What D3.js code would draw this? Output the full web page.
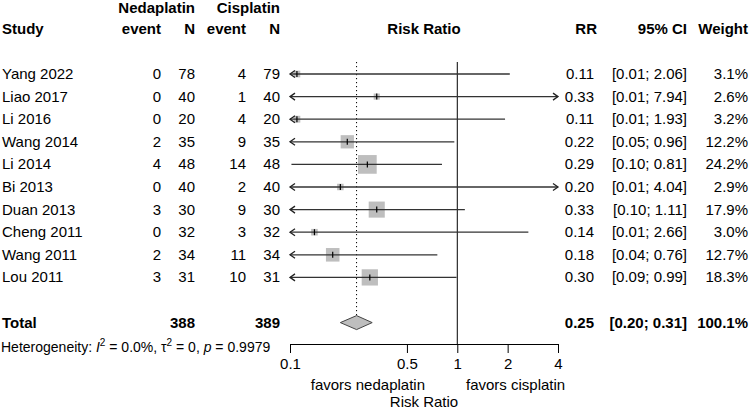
<!DOCTYPE html>
<html>
<head>
<meta charset="utf-8">
<script src="https://cdn.jsdelivr.net/npm/d3@7"></script>
<style>
  body { margin: 0; background: #fff; }
  svg { font-family: "Liberation Sans", Arial, sans-serif; font-size: 15px; }
  .bold { font-weight: bold; }
</style>
</head>
<body>
<div id="chart"></div>
<script>
// Study data
var studies = ["Yang 2022", "Liao 2017", "Li 2016", "Wang 2014", "Li 2014", "Bi 2013", "Duan 2013", "Cheng 2011", "Wang 2011", "Lou 2011"];
var eventsNed = [0, 0, 0, 2, 4, 0, 3, 0, 2, 3];
var totalNed = [78, 40, 20, 35, 48, 40, 30, 32, 34, 31];
var eventsCis = [4, 1, 4, 9, 14, 2, 9, 3, 11, 10];
var totalCis = [79, 40, 20, 35, 48, 40, 30, 32, 34, 31];
var rr = [0.11, 0.33, 0.11, 0.22, 0.29, 0.20, 0.33, 0.14, 0.18, 0.30];
var ciLow = [0.01, 0.01, 0.01, 0.05, 0.102, 0.01, 0.098, 0.01, 0.04, 0.09];
var ciHigh = [2.06, 7.94, 1.93, 0.96, 0.81, 4.04, 1.11, 2.66, 0.76, 0.99];
var weights = [3.1, 2.6, 3.2, 12.2, 24.2, 2.9, 17.9, 3.0, 12.7, 18.3];
var pooled = [0.25, 0.20, 0.31];
var tickValues = [0.1, 0.5, 1, 2, 4];

var width = 750, height = 411;

var svg = d3.select("#chart")
  .append("svg")
    .attr("width", width)
    .attr("height", height);

// log scale for risk ratios, linear scale for rows (row 11 is the total)
var x = d3.scaleLog().domain([0.1, 4]).range([290, 558]);
var y = d3.scaleLinear().domain([0, 11]).range([74, 322.6]);
var box = d3.scaleSqrt().domain([0, 24.2]).range([0, 18.7]);

var rows = studies.map(function(s, i) {
  return { study: s, en: eventsNed[i], nn: totalNed[i], ec: eventsCis[i], nc: totalCis[i],
           rr: rr[i], lo: ciLow[i], hi: ciHigh[i], w: weights[i], i: i };
});

// column headers
var head1 = 12.8, head2 = y(-2) + 5;
svg.append("text").attr("class", "bold").attr("x", 195).attr("y", head1).attr("text-anchor", "end").text("Nedaplatin");
svg.append("text").attr("class", "bold").attr("x", 280).attr("y", head1).attr("text-anchor", "end").text("Cisplatin");
svg.append("text").attr("class", "bold").attr("x", 2).attr("y", head2).text("Study");
[[161, "event"], [195, "N"], [246, "event"], [280, "N"], [597, "RR"], [687, "95% CI"], [748, "Weight"]].forEach(function(h) {
  svg.append("text").attr("class", "bold").attr("x", h[0]).attr("y", head2).attr("text-anchor", "end").text(h[1]);
});
svg.append("text").attr("class", "bold").attr("x", (x.range()[0] + x.range()[1]) / 2).attr("y", head2)
  .attr("text-anchor", "middle").text("Risk Ratio");

// reference lines
svg.append("line")
  .attr("x1", x(1)).attr("x2", x(1)).attr("y1", 62).attr("y2", 344)
  .attr("stroke", "black").attr("stroke-width", 1);
svg.append("line")
  .attr("x1", x(pooled[0])).attr("x2", x(pooled[0])).attr("y1", 62).attr("y2", y(11) - 7)
  .attr("stroke", "black").attr("stroke-width", 1).attr("stroke-dasharray", "1.2,2.8");

// study rows
var g = svg.selectAll("g.row")
  .data(rows)
  .enter()
  .append("g")
  .attr("class", "row");

g.append("text").attr("x", 2).attr("y", function(d) { return y(d.i) + 5; }).text(function(d) { return d.study; });
g.append("text").attr("x", 161).attr("y", function(d) { return y(d.i) + 5; }).attr("text-anchor", "end").text(function(d) { return d.en; });
g.append("text").attr("x", 195).attr("y", function(d) { return y(d.i) + 5; }).attr("text-anchor", "end").text(function(d) { return d.nn; });
g.append("text").attr("x", 246).attr("y", function(d) { return y(d.i) + 5; }).attr("text-anchor", "end").text(function(d) { return d.ec; });
g.append("text").attr("x", 280).attr("y", function(d) { return y(d.i) + 5; }).attr("text-anchor", "end").text(function(d) { return d.nc; });
g.append("text").attr("x", 594).attr("y", function(d) { return y(d.i) + 5; }).attr("text-anchor", "end").text(function(d) { return d.rr.toFixed(2); });
g.append("text").attr("x", 687).attr("y", function(d) { return y(d.i) + 5; }).attr("text-anchor", "end")
  .text(function(d) { return "[" + d.lo.toFixed(2) + "; " + d.hi.toFixed(2) + "]"; });
g.append("text").attr("x", 748).attr("y", function(d) { return y(d.i) + 5; }).attr("text-anchor", "end")
  .text(function(d) { return d.w.toFixed(1) + "%"; });

// weight squares
g.append("rect")
  .attr("x", function(d) { return x(d.rr) - box(d.w) / 2; })
  .attr("y", function(d) { return y(d.i) - box(d.w) / 2; })
  .attr("width", function(d) { return box(d.w); })
  .attr("height", function(d) { return box(d.w); })
  .attr("fill", "#bebebe");

// confidence intervals, clipped to the axis with arrows
var lo = x.domain()[0], hi = x.domain()[1];
g.append("line")
  .attr("x1", function(d) { return x(Math.max(d.lo, lo)); })
  .attr("x2", function(d) { return x(Math.min(d.hi, hi)); })
  .attr("y1", function(d) { return y(d.i); })
  .attr("y2", function(d) { return y(d.i); })
  .attr("stroke", "#333").attr("stroke-width", 1.3);

g.filter(function(d) { return d.lo < lo; })
  .append("path")
  .attr("d", function(d) { var px = x(lo), py = y(d.i); return "M" + (px + 5) + "," + (py - 3.5) + "L" + px + "," + py + "L" + (px + 5) + "," + (py + 3.5); })
  .attr("fill", "none").attr("stroke", "#222").attr("stroke-width", 1.3);
g.filter(function(d) { return d.hi > hi; })
  .append("path")
  .attr("d", function(d) { var px = x(hi), py = y(d.i); return "M" + (px - 5) + "," + (py - 3.5) + "L" + px + "," + py + "L" + (px - 5) + "," + (py + 3.5); })
  .attr("fill", "none").attr("stroke", "#222").attr("stroke-width", 1.3);

// point estimate tick
g.append("line")
  .attr("x1", function(d) { return x(d.rr); })
  .attr("x2", function(d) { return x(d.rr); })
  .attr("y1", function(d) { return y(d.i) - 3; })
  .attr("y2", function(d) { return y(d.i) + 3; })
  .attr("stroke", "black").attr("stroke-width", 1.2);

// total row
var yt = y(11);
svg.append("text").attr("class", "bold").attr("x", 2).attr("y", yt + 5).text("Total");
svg.append("text").attr("class", "bold").attr("x", 195).attr("y", yt + 5).attr("text-anchor", "end").text(d3.sum(totalNed));
svg.append("text").attr("class", "bold").attr("x", 280).attr("y", yt + 5).attr("text-anchor", "end").text(d3.sum(totalCis));
svg.append("text").attr("class", "bold").attr("x", 594).attr("y", yt + 5).attr("text-anchor", "end").text(pooled[0].toFixed(2));
svg.append("text").attr("class", "bold").attr("x", 687).attr("y", yt + 5).attr("text-anchor", "end")
  .text("[" + pooled[1].toFixed(2) + "; " + pooled[2].toFixed(2) + "]");
svg.append("text").attr("class", "bold").attr("x", 748).attr("y", yt + 5).attr("text-anchor", "end").text(d3.sum(weights).toFixed(1) + "%");

svg.append("path")
  .attr("d", "M" + x(pooled[1]) + "," + yt + "L" + x(pooled[0]) + "," + (yt - 7) + "L" + x(pooled[2]) + "," + yt + "L" + x(pooled[0]) + "," + (yt + 7) + "Z")
  .attr("fill", "#bebebe").attr("stroke", "#444").attr("stroke-width", 1);

// heterogeneity line
var het = svg.append("text").attr("x", 1).attr("y", 352).style("font-size", "14px");
het.append("tspan").text("Heterogeneity: ");
het.append("tspan").style("font-style", "italic").text("I");
het.append("tspan").attr("dy", -6).style("font-size", "10px").text("2");
het.append("tspan").attr("dy", 6).text(" = 0.0%, \u03c4");
het.append("tspan").attr("dy", -6).style("font-size", "10px").text("2");
het.append("tspan").attr("dy", 6).text(" = 0, ");
het.append("tspan").style("font-style", "italic").text("p");
het.append("tspan").text(" = 0.9979");

// axis
var axis = svg.append("g")
  .attr("transform", "translate(0,344)")
  .call(d3.axisBottom(x).tickValues(tickValues).tickFormat(function(d) { return d; }).tickSize(9).tickSizeOuter(0).tickPadding(5));
axis.selectAll("text").style("font-size", "15px").style("font-family", "Liberation Sans, Arial, sans-serif").attr("fill", "black");
axis.selectAll("line, path").attr("stroke", "black");

svg.append("text").attr("x", 425).attr("y", 390).attr("text-anchor", "end").text("favors nedaplatin");
svg.append("text").attr("x", 466).attr("y", 390).text("favors cisplatin");
svg.append("text").attr("x", 424).attr("y", 407).attr("text-anchor", "middle").text("Risk Ratio");
</script>
</body>
</html>
